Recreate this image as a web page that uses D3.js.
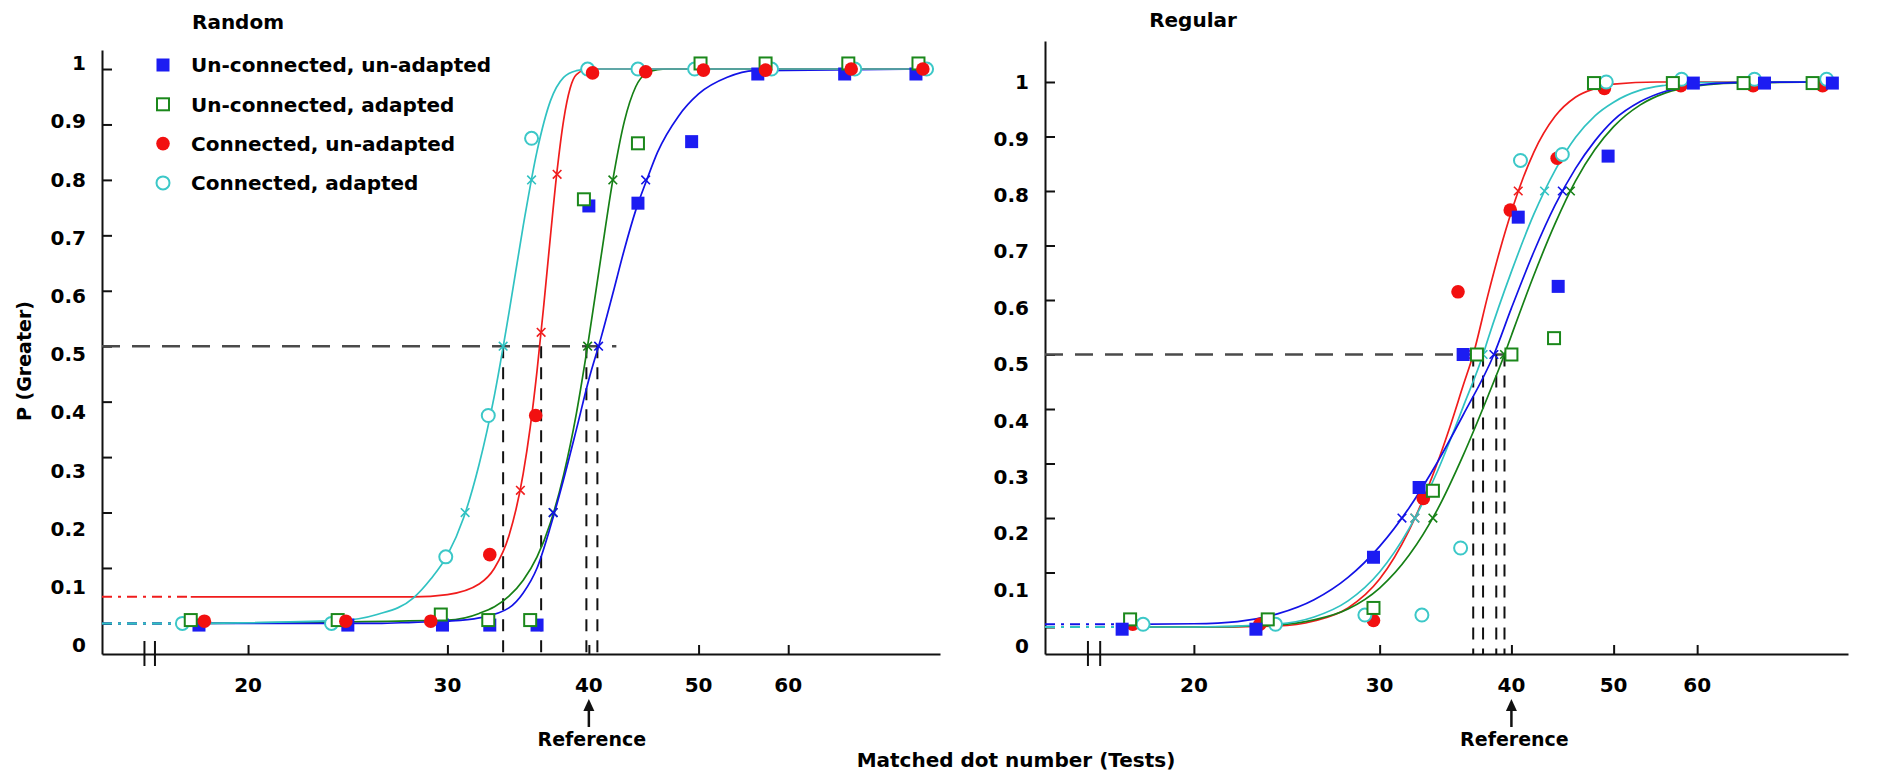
<!DOCTYPE html>
<html><head><meta charset="utf-8">
<script src="https://cdn.jsdelivr.net/npm/d3@7"></script>
<style>
body{margin:0;background:#fff}
svg text{font-family:"DejaVu Sans",sans-serif;font-weight:bold;fill:#000}
</style>
</head><body>
<svg id="c" width="1900" height="784"></svg>
<script>
// ---------------- DATA ----------------
const seriesNames = ["Un-connected, un-adapted", "Un-connected, adapted", "Connected, un-adapted", "Connected, adapted"];
const panelTitles = ["Random", "Regular"];
const yTickValues = [0, 0.1, 0.2, 0.3, 0.4, 0.5, 0.6, 0.7, 0.8, 0.9, 1];
const yTickLabels = ["0", "0.1", "0.2", "0.3", "0.4", "0.5", "0.6", "0.7", "0.8", "0.9", "1"];
const xTickValues = [20, 30, 40, 50, 60];
const xTickLabels = ["20", "30", "40", "50", "60"];
const referenceN = 40;
const referenceLabel = "Reference";
const xAxisTitle = "Matched dot number (Tests)";
const yAxisTitle = "P (Greater)";

// Random panel: observed points (matched dot number, proportion "greater")
const randBlueN  = [18.1, 24.5, 29.7, 32.7, 36.0, 40.0, 44.2, 49.3, 56.4, 67.3, 77.8];
const randBlueP  = [-0.003, -0.003, -0.003, -0.003, -0.003, 0.753, 0.758, 0.869, 0.991, 0.991, 0.991];
const randGreenN = [17.8, 24.0, 29.6, 32.6, 35.5, 39.6, 44.2, 50.2, 57.3, 67.8, 78.2];
const randGreenP = [0.006, 0.006, 0.016, 0.006, 0.006, 0.765, 0.866, 1.01, 1.01, 1.01, 1.01];
const randRedN   = [18.3, 24.4, 29.0, 32.7, 35.9, 40.3, 44.9, 50.5, 57.3, 68.2, 78.9];
const randRedP   = [0.004, 0.004, 0.004, 0.124, 0.375, 0.993, 0.995, 0.998, 0.998, 1.0, 1.0];
const randCyanN  = [17.5, 23.7, 29.9, 32.6, 35.6, 39.9, 44.2, 49.6, 58.0, 68.7, 79.5];
const randCyanP  = [0.0, 0.0, 0.12, 0.375, 0.875, 1.0, 1.0, 1.0, 1.0, 1.0, 1.0];

// Random panel: fitted psychometric curves
const randBlueCurveN  = [17.6, 26, 28, 30, 32, 34, 35, 36, 37, 38, 39, 40, 41, 42, 43, 44, 45, 46, 48, 50, 53, 56, 80];
const randBlueCurveP  = [0.0, 0.0, 0.002, 0.004, 0.01, 0.028, 0.055, 0.10, 0.175, 0.26, 0.35, 0.44, 0.515, 0.595, 0.675, 0.745, 0.80, 0.85, 0.915, 0.955, 0.985, 0.997, 1.0];
const randGreenCurveN = [17.6, 30, 32, 34, 35, 36, 37, 38, 39, 40, 41, 42, 43, 44, 45, 46, 47, 50, 80];
const randGreenCurveP = [0.0, 0.006, 0.018, 0.049, 0.078, 0.12, 0.182, 0.268, 0.379, 0.515, 0.661, 0.80, 0.906, 0.968, 0.993, 0.999, 1.0, 1.0, 1.0];
const randRedCurveN   = [17.8, 28, 30, 32, 33, 34, 35, 35.5, 36, 36.5, 37, 37.5, 38, 38.5, 39, 40, 50, 80];
const randRedCurveP   = [0.048, 0.048, 0.052, 0.071, 0.099, 0.158, 0.27, 0.353, 0.456, 0.575, 0.70, 0.817, 0.908, 0.965, 0.99, 1.0, 1.0, 1.0];
const randCyanCurveN  = [17.6, 24, 26, 28, 29, 30, 31, 32, 33, 34, 35, 36, 37, 38, 39, 40, 50, 80];
const randCyanCurveP  = [0.0, 0.005, 0.016, 0.046, 0.08, 0.123, 0.19, 0.287, 0.41, 0.56, 0.717, 0.852, 0.943, 0.985, 0.997, 1.0, 1.0, 1.0];

// Random panel: "x" marks on the curves
const randBlueMarkN  = [37.2, 40.8, 44.9];  const randBlueMarkP  = [0.2, 0.5, 0.8];
const randGreenMarkN = [37.2, 39.9, 42.0];  const randGreenMarkP = [0.2, 0.5, 0.8];
const randRedMarkN   = [34.8, 36.3, 37.5];  const randRedMarkP   = [0.24, 0.525, 0.81];
const randCyanMarkN  = [31.1, 33.6, 35.6];  const randCyanMarkP  = [0.2, 0.5, 0.8];
// Random panel: points of subjective equality (dashed verticals) and 0.5 guide end
const randPSE = [33.6, 36.3, 39.8, 40.7];
const randHalfEnd = 42.3;
const randBreakN = [16.2, 16.55];

// Regular panel: observed points
const regBlueN  = [17.1, 22.9, 29.6, 32.7, 36.0, 40.6, 44.3, 49.4, 59.5, 69.5, 80.6];
const regBlueP  = [-0.004, -0.004, 0.128, 0.256, 0.5, 0.752, 0.625, 0.864, 0.998, 0.998, 0.998];
const regGreenN = [17.4, 23.5, 29.6, 33.7, 37.1, 40.0, 43.9, 47.9, 56.9, 66.4, 77.2];
const regGreenP = [0.014, 0.014, 0.035, 0.25, 0.5, 0.5, 0.53, 0.998, 0.998, 0.998, 0.998];
const regRedN   = [17.5, 23.1, 29.6, 33.0, 35.6, 39.9, 44.2, 49.0, 57.9, 67.8, 78.9];
const regRedP   = [0.005, 0.005, 0.012, 0.236, 0.615, 0.765, 0.86, 0.988, 0.993, 0.993, 0.993];
const regCyanN  = [17.9, 23.9, 29.05, 32.9, 35.8, 40.8, 44.7, 49.2, 58.0, 68.0, 79.6];
const regCyanP  = [0.005, 0.005, 0.022, 0.022, 0.145, 0.856, 0.867, 1.0, 1.005, 1.005, 1.005];

// Regular panel: fitted curves
const regBlueCurveN  = [17.3, 20, 22, 24, 26, 28, 30, 32, 34, 36, 38.5, 40, 42, 44, 46, 48, 50, 53, 56, 60, 65, 80];
const regBlueCurveP  = [0.005, 0.006, 0.01, 0.024, 0.05, 0.091, 0.148, 0.219, 0.301, 0.389, 0.5, 0.585, 0.688, 0.774, 0.841, 0.892, 0.93, 0.964, 0.983, 0.994, 0.999, 1.0];
const regGreenCurveN = [17.3, 20, 24, 26, 28, 30, 32, 34, 36, 38, 39.4, 40, 42, 44, 46, 48, 50, 53, 56, 60, 65, 80];
const regGreenCurveP = [0.0, 0.0, 0.004, 0.013, 0.033, 0.0715, 0.132, 0.214, 0.315, 0.4235, 0.5, 0.535, 0.645, 0.74, 0.818, 0.876, 0.918, 0.958, 0.98, 0.993, 0.998, 1.0];
const regRedCurveN   = [17.3, 20, 24, 26, 28, 30, 32, 34, 35, 36, 36.8, 38, 39, 40, 41, 42, 44, 46, 48, 50, 55, 80];
const regRedCurveP   = [0.0, 0.0, 0.002, 0.011, 0.035, 0.088, 0.178, 0.299, 0.369, 0.443, 0.5, 0.609, 0.691, 0.762, 0.822, 0.871, 0.937, 0.972, 0.988, 0.996, 1.0, 1.0];
const regCyanCurveN  = [17.3, 20, 24, 26, 28, 30, 32, 34, 36, 37.6, 38, 40, 42, 44, 46, 48, 50, 53, 56, 60, 80];
const regCyanCurveP  = [0.0, 0.0, 0.0055, 0.0185, 0.048, 0.101, 0.181, 0.284, 0.404, 0.5, 0.528, 0.652, 0.757, 0.838, 0.898, 0.938, 0.963, 0.985, 0.994, 0.999, 1.0];

// Regular panel: "x" marks
const regBlueMarkN  = [31.5, 38.5, 44.7];  const regBlueMarkP  = [0.2, 0.5, 0.8];
const regGreenMarkN = [33.7, 39.4, 45.5];  const regGreenMarkP = [0.2, 0.5, 0.8];
const regRedMarkN   = [32.4, 36.8, 40.6];  const regRedMarkP   = [0.2, 0.5, 0.8];
const regCyanMarkN  = [32.4, 37.6, 43.0];  const regCyanMarkP  = [0.2, 0.5, 0.8];
const regPSE = [36.8, 37.6, 38.7, 39.4];
const regHalfEnd = 41.0;
const regBreakN = [15.87, 16.3];

// ---------------- STYLE ----------------
const markerColors = ["#1c1cf2", "#1b881b", "#f21010", "#3cc8c8"];
const curveColors  = ["#1212e6", "#168016", "#f01c1c", "#30c2c2"];
const markerKinds  = ["sqFill", "sqOpen", "cirFill", "cirOpen"];

const svg = d3.select("#c");

const zip = (a, b) => a.map((v, i) => [v, b[i]]);

function drawPanel(p) {
  const g = svg.append("g");
  const x = d3.scaleLog().domain(p.xDomain).range(p.xRange);
  const y = d3.scaleLinear().domain(p.yDomain).range(p.yRange);
  const yLab = d3.scaleLinear().domain([0, 1]).range(p.yLabelRange);
  const x0 = p.xRange[0], yBottom = p.yRange[0];

  // axes
  g.append("g").attr("transform", `translate(${x0},0)`)
    .call(d3.axisRight(y).tickValues(yTickValues).tickSize(10).tickSizeOuter(0).tickFormat(""))
    .call(a => a.selectAll("path,line").attr("stroke", "#111").attr("stroke-width", 2));
  g.append("g").attr("transform", `translate(0,${yBottom})`)
    .call(d3.axisTop(x).tickValues(xTickValues).tickSize(9).tickSizeOuter(0).tickFormat(""))
    .call(a => a.selectAll("path,line").attr("stroke", "#111").attr("stroke-width", 2));

  g.selectAll(".brk").data(p.breakN).join("line")
    .attr("x1", d => x(d)).attr("x2", d => x(d))
    .attr("y1", yBottom - 13).attr("y2", yBottom + 12)
    .attr("stroke", "#111").attr("stroke-width", 2);

  g.selectAll(".yl").data(yTickValues).join("text")
    .attr("x", x0 - 16).attr("y", d => yLab(d)).attr("dy", "0.36em")
    .attr("text-anchor", "end").attr("font-size", 20)
    .text((d, i) => yTickLabels[i]);

  g.selectAll(".xl").data(xTickValues).join("text")
    .attr("x", d => x(d)).attr("y", yBottom + 31).attr("dy", "0.36em")
    .attr("text-anchor", "middle").attr("font-size", 20)
    .text((d, i) => xTickLabels[i]);

  g.append("text").attr("x", p.titlePos[0]).attr("y", p.titlePos[1]).attr("dy", "0.36em")
    .attr("text-anchor", "middle").attr("font-size", 20).text(p.title);

  // reference arrow
  const xr = x(referenceN);
  g.append("line").attr("x1", xr).attr("x2", xr).attr("y1", yBottom + 73).attr("y2", yBottom + 55)
    .attr("stroke", "#111").attr("stroke-width", 2.5);
  g.append("path").attr("d", `M${xr - 5.5},${yBottom + 57}L${xr + 5.5},${yBottom + 57}L${xr},${yBottom + 45}Z`)
    .attr("fill", "#111");
  g.append("text").attr("x", xr + 3).attr("y", yBottom + 85).attr("dy", "0.36em")
    .attr("text-anchor", "middle").attr("font-size", 19).text(referenceLabel);

  // 0.5 guide lines
  g.append("line").attr("x1", x0).attr("x2", x(p.halfEnd)).attr("y1", y(0.5)).attr("y2", y(0.5))
    .attr("stroke", "#4a4a4a").attr("stroke-width", 2.5).attr("stroke-dasharray", "18,12");
  g.selectAll(".pse").data(p.pse).join("line")
    .attr("x1", d => x(d)).attr("x2", d => x(d)).attr("y1", y(0.5)).attr("y2", yBottom)
    .attr("stroke", "#111").attr("stroke-width", 2).attr("stroke-dasharray", "12,9");

  const line = d3.line().x(d => x(d[0])).y(d => y(d[1])).curve(d3.curveMonotoneX);

  // fitted curves with dash-dot extension to the axis
  p.lineOrder.forEach(i => {
    const s = p.series[i];
    const pts = zip(s.curveN, s.curveP);
    g.append("path").attr("d", line([[p.xDomain[0], pts[0][1]], pts[0]]))
      .attr("fill", "none").attr("stroke", curveColors[i]).attr("stroke-width", 2)
      .attr("stroke-dasharray", "10,6,3,6");
    g.append("path").attr("d", line(pts))
      .attr("fill", "none").attr("stroke", curveColors[i]).attr("stroke-width", 1.7);
  });
  // x marks
  p.lineOrder.forEach(i => {
    const s = p.series[i];
    g.selectAll(null).data(zip(s.markN, s.markP)).join("path")
      .attr("transform", d => `translate(${x(d[0])},${y(d[1])})`)
      .attr("d", d3.symbol(d3.symbolTimes, 50)())
      .attr("fill", "none").attr("stroke", curveColors[i]).attr("stroke-width", 1.6);
  });
  // observed points
  p.markerOrder.forEach(i => {
    const s = p.series[i];
    drawMarkers(g, zip(s.n, s.p).map(d => [x(d[0]), y(d[1])]), i);
  });
}

function drawMarkers(g, pts, i) {
  const kind = markerKinds[i], c = markerColors[i];
  if (kind === "sqFill") {
    g.selectAll(null).data(pts).join("rect").attr("x", d => d[0] - 6.5).attr("y", d => d[1] - 6.5)
      .attr("width", 13).attr("height", 13).attr("fill", c);
  } else if (kind === "sqOpen") {
    g.selectAll(null).data(pts).join("rect").attr("x", d => d[0] - 6).attr("y", d => d[1] - 6)
      .attr("width", 12).attr("height", 12).attr("fill", "#fff").attr("stroke", c).attr("stroke-width", 2);
  } else if (kind === "cirFill") {
    g.selectAll(null).data(pts).join("circle").attr("cx", d => d[0]).attr("cy", d => d[1])
      .attr("r", 6.8).attr("fill", c);
  } else {
    g.selectAll(null).data(pts).join("circle").attr("cx", d => d[0]).attr("cy", d => d[1])
      .attr("r", 6.5).attr("fill", "#fff").attr("stroke", c).attr("stroke-width", 2);
  }
}

drawPanel({
  title: panelTitles[0], titlePos: [238, 22],
  xDomain: [14.86, 81.7], xRange: [102, 940],
  yDomain: [-0.0552, 1.0343], yRange: [654, 50], yLabelRange: [645, 63],
  breakN: randBreakN, pse: randPSE, halfEnd: randHalfEnd,
  lineOrder: [1, 0, 2, 3], markerOrder: [0, 3, 1, 2],
  series: [
    {n: randBlueN, p: randBlueP, curveN: randBlueCurveN, curveP: randBlueCurveP, markN: randBlueMarkN, markP: randBlueMarkP},
    {n: randGreenN, p: randGreenP, curveN: randGreenCurveN, curveP: randGreenCurveP, markN: randGreenMarkN, markP: randGreenMarkP},
    {n: randRedN, p: randRedP, curveN: randRedCurveN, curveP: randRedCurveP, markN: randRedMarkN, markP: randRedMarkP},
    {n: randCyanN, p: randCyanP, curveN: randCyanCurveN, curveP: randCyanCurveP, markN: randCyanMarkN, markP: randCyanMarkP}
  ]
});

drawPanel({
  title: panelTitles[1], titlePos: [1193, 20],
  xDomain: [14.45, 83.4], xRange: [1045, 1848],
  yDomain: [-0.0495, 1.0752], yRange: [654, 41], yLabelRange: [646, 82],
  breakN: regBreakN, pse: regPSE, halfEnd: regHalfEnd,
  lineOrder: [2, 1, 3, 0], markerOrder: [2, 3, 1, 0],
  series: [
    {n: regBlueN, p: regBlueP, curveN: regBlueCurveN, curveP: regBlueCurveP, markN: regBlueMarkN, markP: regBlueMarkP},
    {n: regGreenN, p: regGreenP, curveN: regGreenCurveN, curveP: regGreenCurveP, markN: regGreenMarkN, markP: regGreenMarkP},
    {n: regRedN, p: regRedP, curveN: regRedCurveN, curveP: regRedCurveP, markN: regRedMarkN, markP: regRedMarkP},
    {n: regCyanN, p: regCyanP, curveN: regCyanCurveN, curveP: regCyanCurveP, markN: regCyanMarkN, markP: regCyanMarkP}
  ]
});

// legend
const legend = svg.append("g");
seriesNames.forEach((name, i) => {
  const ly = 65 + i * 39.3;
  drawMarkers(legend, [[163, ly]], i);
  legend.append("text").attr("x", 191).attr("y", ly).attr("dy", "0.36em").attr("font-size", 20).text(name);
});

// axis titles
svg.append("text").attr("x", 1016).attr("y", 760).attr("dy", "0.36em").attr("text-anchor", "middle")
  .attr("font-size", 20).text(xAxisTitle);
svg.append("text").attr("transform", "translate(24,361) rotate(-90)").attr("dy", "0.36em")
  .attr("text-anchor", "middle").attr("font-size", 19).text(yAxisTitle);
</script>
</body></html>
